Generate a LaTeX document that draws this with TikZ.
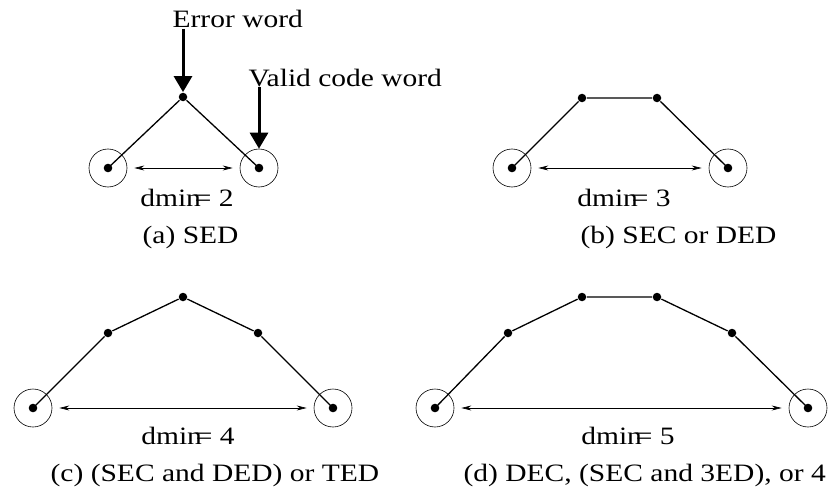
\documentclass[tikz,border=0pt]{standalone}
\usepackage{fontspec}
\setmainfont{Liberation Serif}
\newfontfamily\figfont[FakeStretch=1.18]{Liberation Serif}
\usetikzlibrary{arrows.meta}

\tikzset{
  palavra/.style={circle, draw, line width=0.6pt, minimum size=38pt, inner sep=0pt,
    path picture={\fill (path picture bounding box.center) circle (4.3pt);}},
  erro/.style={circle, fill, minimum size=8.5pt, inner sep=0pt},
  dist/.style={{Stealth[length=10pt,width=5pt]}-{Stealth[length=10pt,width=5pt]},
    line width=0.6pt, shorten <=7pt, shorten >=7pt},
  seta/.style={-{Triangle[length=16pt,width=18pt]}, line width=3pt},
  rotulo/.style={font=\figfont\fontsize{25}{25}\selectfont, inner sep=0pt},
}
\newcommand{\dmin}[1]{dmin\kern-6pt= #1}

\begin{document}
\begin{tikzpicture}[x=1pt, y=-1pt, line width=1.3pt]
    \useasboundingbox (0,0) rectangle (833,487);

    % (a) SED
    \node[palavra] (a1) at (108,168) {};
    \node[palavra] (a3) at (259,168) {};
    \node[erro] (a2) at (183,97) {};
    \draw (a1.center) -- (a2) -- (a3.center);
    \draw[dist] (a1) -- (a3);
    \node[rotulo, anchor=base] (da) at (187,206) {\dmin{2}};
    \node[rotulo, anchor=base west] (ca) at (142,243) {(a) SED};
    \node[rotulo, anchor=base west] (ew) at (172,28) {Error word};
    \draw[seta] (ew.south -| a2) -- (a2.north);
    \node[rotulo, anchor=base west] (vw) at (248,86) {Valid code word};
    \draw[seta] (vw.south -| a3) -- (a3.north);

    % (b) SEC or DED
    \node[palavra] (b1) at (512,168) {};
    \node[palavra] (b4) at (728,168) {};
    \foreach \n/\x in {b2/582, b3/657}
        \node[erro] (\n) at (\x,98) {};
    \draw (b1.center) -- (b2) -- (b3) -- (b4.center);
    \draw[dist] (b1) -- (b4);
    \node[rotulo, anchor=base] (db) at (624,206) {\dmin{3}};
    \node[rotulo, anchor=base west] (cb) at (580,243) {(b) SEC or DED};

    % (c) (SEC and DED) or TED
    \node[palavra] (c1) at (33,408) {};
    \node[palavra] (c5) at (333,408) {};
    \foreach \n/\x/\y in {c2/108/333, c3/183/297, c4/258/333}
        \node[erro] (\n) at (\x,\y) {};
    \draw (c1.center) -- (c2) -- (c3) -- (c4) -- (c5.center);
    \draw[dist] (c1) -- (c5);
    \node[rotulo, anchor=base] (dc) at (188,444) {\dmin{4}};
    \node[rotulo, anchor=base west] (cc) at (50,481) {(c) (SEC and DED) or TED};

    % (d) DEC, (SEC and 3ED), or 4
    \node[palavra] (d1) at (435,408) {};
    \node[palavra] (d6) at (808,408) {};
    \foreach \n/\x/\y in {d2/508/333, d3/582/297, d4/657/297, d5/732/333}
        \node[erro] (\n) at (\x,\y) {};
    \draw (d1.center) -- (d2) -- (d3) -- (d4) -- (d5) -- (d6.center);
    \draw[dist] (d1) -- (d6);
    \node[rotulo, anchor=base] (dd) at (628,444) {\dmin{5}};
    \node[rotulo, anchor=base west] (cd) at (463,481) {(d) DEC, (SEC and 3ED), or 4};
\end{tikzpicture}
\end{document}
